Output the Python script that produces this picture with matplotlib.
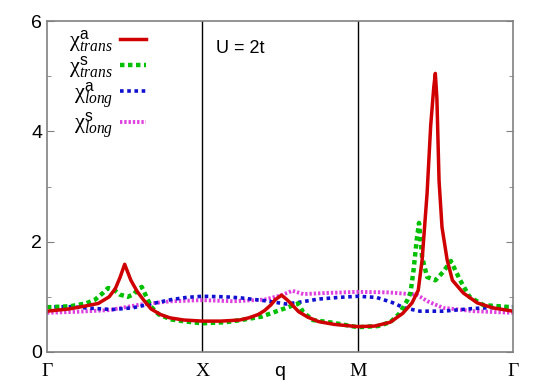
import numpy as np
import matplotlib.pyplot as plt
from matplotlib.ticker import MultipleLocator

plt.rcParams["mathtext.fontset"] = "custom"
plt.rcParams["mathtext.it"] = "Liberation Serif:italic"
plt.rcParams["mathtext.rm"] = "Liberation Serif"
plt.rcParams["mathtext.sf"] = "Liberation Sans"
plt.rcParams["font.family"] = ["Liberation Sans", "DejaVu Sans"]

# path coordinate: Gamma=0, X=1, M=2, Gamma=3 (q at 1.5)
tick_pos = [0, 1, 1.5, 2, 3]
tick_labels = ["Γ", "X", "q", "M", "Γ"]

# chi^a_trans
t_trans_a = [0, 0.14, 0.24, 0.33, 0.40, 0.44, 0.47, 0.50, 0.54, 0.58, 0.62, 0.67,
             0.73, 0.79, 0.88, 1.0, 1.12, 1.24, 1.30, 1.36, 1.40, 1.44, 1.47, 1.51,
             1.54, 1.57, 1.62, 1.68, 1.75, 1.85, 2.0, 2.11, 2.21, 2.29, 2.35, 2.39,
             2.415, 2.447, 2.47, 2.49, 2.50, 2.51, 2.524, 2.543, 2.576, 2.61, 2.68,
             2.77, 2.87, 3.0]
v_trans_a = [0.74, 0.78, 0.83, 0.88, 1.0, 1.15, 1.35, 1.59, 1.3, 1.1, 0.95, 0.78,
             0.68, 0.62, 0.58, 0.56, 0.56, 0.58, 0.62, 0.68, 0.75, 0.85, 0.95, 1.03,
             0.96, 0.88, 0.73, 0.63, 0.55, 0.5, 0.46, 0.47, 0.54, 0.7, 0.89, 1.12,
             1.67, 2.88, 4.1, 4.8, 5.05, 4.6, 3.1, 2.26, 1.67, 1.3, 1.07,
             0.89, 0.8, 0.74]

# chi^s_trans
t_trans_s = [0, 0.15, 0.25, 0.31, 0.36, 0.393, 0.43, 0.47, 0.52, 0.56, 0.58, 0.61,
             0.64, 0.67, 0.72, 0.8, 0.9, 1.0, 1.15, 1.25, 1.38, 1.46, 1.56, 1.616,
             1.65, 1.71, 1.84, 2.0, 2.13, 2.21, 2.27, 2.32, 2.34, 2.36, 2.38, 2.395,
             2.415, 2.447, 2.5, 2.55, 2.6, 2.66, 2.72, 2.81, 3.0]
v_trans_s = [0.81, 0.83, 0.88, 0.95, 1.07, 1.16, 1.13, 1.04, 1.0, 1.05, 1.12, 1.18,
             1.0, 0.82, 0.68, 0.59, 0.55, 0.52, 0.54, 0.58, 0.64, 0.72, 0.82, 0.88,
             0.72, 0.58, 0.53, 0.45, 0.47, 0.54, 0.7, 0.94, 1.07, 1.49, 2.03, 2.34,
             1.72, 1.36, 1.3, 1.45, 1.65, 1.3, 1.0, 0.85, 0.81]

# chi^a_long
t_long_a = [0, 0.15, 0.3, 0.42, 0.55, 0.65, 0.8, 0.9, 1.0, 1.15, 1.25, 1.4, 1.54,
            1.62, 1.75, 1.88, 2.0, 2.12, 2.22, 2.3, 2.4, 2.55, 2.75, 3.0]
v_long_a = [0.82, 0.82, 0.79, 0.77, 0.8, 0.86, 0.95, 0.99, 1.01, 1.0, 0.98, 0.93, 0.87,
            0.9, 0.96, 0.99, 1.01, 0.99, 0.9, 0.8, 0.74, 0.74, 0.79, 0.82]

# chi^s_long
t_long_s = [0, 0.2, 0.4, 0.6, 0.8, 1.0, 1.2, 1.4, 1.5, 1.58, 1.65, 1.8, 2.0, 2.2,
            2.38, 2.45, 2.55, 2.75, 3.0]
v_long_s = [0.71, 0.73, 0.76, 0.86, 0.92, 0.94, 0.92, 0.95, 1.02, 1.11, 1.05, 1.07,
            1.09, 1.08, 1.04, 0.92, 0.8, 0.74, 0.71]

fig = plt.figure(figsize=(5.45, 3.82), dpi=100)
ax = fig.add_axes([47 / 545, 30 / 382, 466 / 545, 331 / 382])

ax.axvline(1, color="black", lw=1)
ax.axvline(2, color="black", lw=1)

ax.plot(t_long_s, v_long_s, color="#e040e0", lw=2.8, ls=(0, (0.6, 0.5)),
        label=r"$\mathrm{\chi}^{\mathsf{s}}_{long}$")
ax.plot(t_long_a, v_long_a, color="#1010d0", lw=2.6, ls=(0, (1, 1)),
        label=r"$\mathrm{\chi}^{\mathsf{a}}_{long}$")
ax.plot(t_trans_s, v_trans_s, color="#00c000", lw=3.2, ls=(0, (1, 0.8)),
        label=r"$\mathrm{\chi}^{\mathsf{s}}_{trans}$")
ax.plot(t_trans_a, v_trans_a, color="#d00000", lw=2.5,
        label=r"$\mathrm{\chi}^{\mathsf{a}}_{trans}$")

ax.set_xlim(0, 3)
ax.set_ylim(0, 6)
ax.set_xticks(tick_pos)
ax.set_xticklabels(tick_labels)
for lab in ax.get_xticklabels():
    if lab.get_text() != "q":
        lab.set_family("Liberation Serif")
    lab.set_fontsize(14)
ax.tick_params(axis="x", length=0, pad=8)

ax.set_yticks([0, 2, 4, 6])
ax.yaxis.set_minor_locator(MultipleLocator(1))
ax.tick_params(axis="y", which="both", direction="in", right=True, labelsize=14,
               colors="black")
ax.tick_params(axis="y", which="major", length=5, color="gray")
ax.tick_params(axis="y", which="minor", length=3, color="gray")
for s in ax.spines.values():
    s.set_color("gray")
    s.set_linewidth(1.2)

handles, labels = ax.get_legend_handles_labels()
leg = ax.legend(handles[::-1], labels[::-1], loc="upper left",
                bbox_to_anchor=(0.005, 1.037), frameon=False, markerfirst=False,
                fontsize=16, handlelength=1.2, labelspacing=0.0,
                handletextpad=0.3)

ax.text(1.09, 5.42, "U = 2t", fontsize=13)

fig.savefig("out.png", dpi=100)
